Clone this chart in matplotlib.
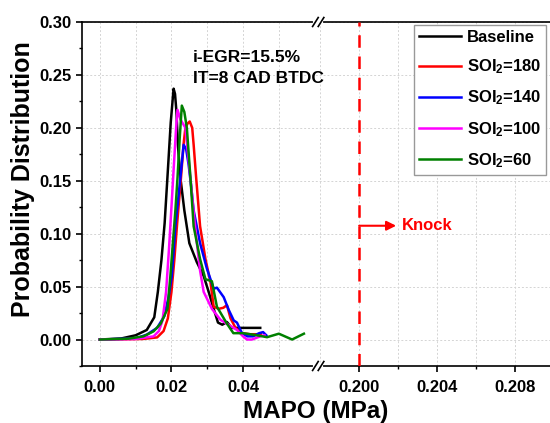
import numpy as np
import matplotlib
matplotlib.use("Agg")
import matplotlib.pyplot as plt
from matplotlib.ticker import FixedLocator, FixedFormatter

plt.rcParams["font.family"] = ["Liberation Sans", "DejaVu Sans"]
plt.rcParams["font.weight"] = "bold"
plt.rcParams["mathtext.fontset"] = "custom"
plt.rcParams["mathtext.rm"] = "Liberation Sans:bold"
plt.rcParams["mathtext.bf"] = "Liberation Sans:bold"
plt.rcParams["mathtext.default"] = "bf"

# MAPO (MPa) vs probability distribution
base_x = [0.000, 0.006, 0.010, 0.0131, 0.0152, 0.0162, 0.0172, 0.0181, 0.0190, 0.0198, 0.0206,
          0.0210, 0.0214, 0.0218, 0.0225, 0.0236, 0.0250, 0.0271, 0.0290, 0.0304, 0.0318,
          0.0330, 0.0342, 0.0355, 0.0368, 0.0383, 0.0448]
base_y = [0.000, 0.001, 0.004, 0.009, 0.021, 0.045, 0.075, 0.110, 0.160, 0.205, 0.237,
          0.232, 0.215, 0.184, 0.153, 0.122, 0.091, 0.073, 0.060, 0.045, 0.029,
          0.016, 0.014, 0.0165, 0.011, 0.011, 0.011]

soi180_x = [0.000, 0.012, 0.016, 0.0178, 0.0190, 0.0200, 0.0208, 0.0216, 0.0226, 0.0234, 0.0239,
            0.0245, 0.0251, 0.0258, 0.0262, 0.0269, 0.0280, 0.0295, 0.0309, 0.0318, 0.0332,
            0.0345, 0.0355, 0.0365, 0.0379, 0.0397, 0.0420, 0.0450]
soi180_y = [0.000, 0.0005, 0.002, 0.008, 0.020, 0.045, 0.075, 0.110, 0.150, 0.185, 0.200,
            0.204, 0.206, 0.200, 0.184, 0.153, 0.107, 0.076, 0.054, 0.031, 0.029,
            0.030, 0.0325, 0.020, 0.011, 0.006, 0.005, 0.005]

soi140_x = [0.000, 0.010, 0.0131, 0.0160, 0.0180, 0.0192, 0.0201, 0.0211, 0.0225, 0.0234, 0.0241,
            0.0248, 0.0255, 0.0262, 0.0280, 0.0299, 0.0318, 0.0327, 0.0346, 0.0360, 0.0374,
            0.0383, 0.0397, 0.0412, 0.0428, 0.0445, 0.0456, 0.0465]
soi140_y = [0.000, 0.001, 0.0046, 0.011, 0.022, 0.040, 0.060, 0.107, 0.153, 0.184, 0.180,
            0.165, 0.145, 0.122, 0.091, 0.067, 0.048, 0.049, 0.040, 0.028, 0.018,
            0.016, 0.006, 0.003, 0.003, 0.006, 0.007, 0.004]

soi100_x = [0.000, 0.010, 0.0150, 0.0165, 0.0175, 0.0185, 0.0193, 0.0200, 0.0206, 0.0213, 0.0217,
            0.0225, 0.0239, 0.0253, 0.0262, 0.0271, 0.0280, 0.0290, 0.0313, 0.0337, 0.0369,
            0.0383, 0.0400, 0.0411, 0.0425, 0.0448, 0.0460]
soi100_y = [0.000, 0.0005, 0.003, 0.008, 0.018, 0.045, 0.085, 0.125, 0.160, 0.200, 0.217,
            0.208, 0.200, 0.153, 0.120, 0.091, 0.065, 0.045, 0.029, 0.0186, 0.012,
            0.009, 0.003, 0.000, 0.000, 0.003, 0.004]

soi60_x = [0.000, 0.008, 0.0122, 0.0150, 0.0170, 0.0189, 0.0197, 0.0204, 0.0211, 0.0217, 0.0223,
           0.0229, 0.0236, 0.0243, 0.0253, 0.0262, 0.0280, 0.0295, 0.0313, 0.0327, 0.0355,
           0.0373, 0.0400, 0.0439, 0.0467, 0.0500, 0.0537, 0.0570]
soi60_y = [0.000, 0.0008, 0.003, 0.0077, 0.015, 0.029, 0.060, 0.091, 0.122, 0.153, 0.190,
           0.221, 0.215, 0.200, 0.153, 0.107, 0.076, 0.057, 0.055, 0.031, 0.015,
           0.006, 0.006, 0.004, 0.0022, 0.0055, 0.000, 0.0055]

series = [
    (base_x, base_y, "black", "Baseline"),
    (soi180_x, soi180_y, "#ff0000", "SOI$_2$=180"),
    (soi140_x, soi140_y, "#0000ff", "SOI$_2$=140"),
    (soi100_x, soi100_y, "#ff00ff", "SOI$_2$=100"),
    (soi60_x, soi60_y, "#008000", "SOI$_2$=60"),
]

knock_x = 0.200
knock_arrow_y = 0.1075

# broken x axis: two linear pieces glued together at the break
S1, S2 = 3575.0, 19450.0
B1, B2 = 0.061, 0.1979
K = 0.01
Y0 = B1 * S1
Y1 = Y0 + (B2 - B1) * K


def forward(x):
    x = np.asarray(x, dtype=float)
    return np.where(x <= B1, x * S1,
                    np.where(x >= B2, Y1 + (x - B2) * S2, Y0 + (x - B1) * K))


def inverse(y):
    y = np.asarray(y, dtype=float)
    return np.where(y <= Y0, y / S1,
                    np.where(y >= Y1, B2 + (y - Y1) / S2, B1 + (y - Y0) / K))


fig = plt.figure(figsize=(5.5, 4.23), dpi=100)
ax = fig.add_axes([0.149, 0.1348, 0.851, 0.8132])
ax.set_xscale("function", functions=(forward, inverse))

for xs, ys, c, lab in series:
    ax.plot(xs, ys, color=c, lw=1.8, label=lab)

ax.set_xlim(-0.005, 0.2098)
ax.set_ylim(-0.02, 0.30)

major_x = [0.00, 0.02, 0.04, 0.200, 0.204, 0.208]
ax.xaxis.set_major_locator(FixedLocator(major_x))
ax.xaxis.set_major_formatter(FixedFormatter(["0.00", "0.02", "0.04", "0.200", "0.204", "0.208"]))
ax.xaxis.set_minor_locator(FixedLocator([0.01, 0.03, 0.05, 0.202, 0.206]))
ax.set_yticks(np.arange(0, 0.301, 0.05))
ax.set_yticks(np.arange(-0.025, 0.301, 0.025), minor=True)
ax.yaxis.set_major_formatter(plt.FuncFormatter(lambda v, p: "{:.2f}".format(v)))
ax.tick_params(which="major", direction="out", length=4, width=1.2, labelsize=12)
ax.tick_params(which="minor", direction="out", length=2.5, width=1.0)
ax.tick_params(axis="x", pad=6)

grid_kw = dict(color="#d4d4d4", lw=0.7, ls=(0, (2, 2)), zorder=0)
ax.xaxis.grid(True, which="both", **grid_kw)
ax.yaxis.grid(True, which="major", **grid_kw)
ax.axvline(0.198, **grid_kw)
ax.set_axisbelow(True)

for s in ["left", "bottom", "top"]:
    ax.spines[s].set_linewidth(1.2)
ax.spines["right"].set_visible(False)

ax.set_xlabel("MAPO (MPa)", fontsize=17.5, fontweight="bold", labelpad=4)
ax.set_ylabel("Probability Distribution", fontsize=18, fontweight="bold")
ax.yaxis.set_label_coords(-0.10, 0.544)

# knock limit
ax.axvline(knock_x, color="#ff0000", lw=1.8, ls=(0, (5, 3.5)), zorder=3)
ax.annotate("", xy=(0.2019, knock_arrow_y), xytext=(knock_x, knock_arrow_y),
            arrowprops=dict(arrowstyle="-|>", color="#ff0000", lw=1.5, mutation_scale=14,
                            shrinkA=0, shrinkB=0))
ax.text(0.2022, knock_arrow_y, "Knock", color="#ff0000", fontsize=12, fontweight="bold",
        va="center", ha="left")

ax.text(0.026, 0.274, "i-EGR=15.5%\nIT=8 CAD BTDC", fontsize=12.5, fontweight="bold",
        va="top", ha="left", linespacing=1.5)

leg = ax.legend(loc="upper right", bbox_to_anchor=(0.9915, 0.991), borderaxespad=0,
                fontsize=12, frameon=True, fancybox=False, edgecolor="#999999", framealpha=1,
                handlelength=2.5, handletextpad=0.35, labelspacing=0.75, borderpad=0.3)
leg.get_frame().set_linewidth(1.0)

# break marks "//" on top and bottom spines
bx = (forward(B1) - forward(-0.005)) / (forward(0.2098) - forward(-0.005))
dx, dy = 0.006, 0.013
for yb in (0.0, 1.0):
    ax.plot([bx - 0.006, bx + 0.006], [yb, yb], color="white", lw=3,
            transform=ax.transAxes, clip_on=False, zorder=5)
    for off in (-0.006, 0.006):
        ax.plot([bx + off - dx, bx + off + dx], [yb - dy, yb + dy], color="black", lw=1.2,
                transform=ax.transAxes, clip_on=False, zorder=6)

fig.savefig("out.png", dpi=100)
